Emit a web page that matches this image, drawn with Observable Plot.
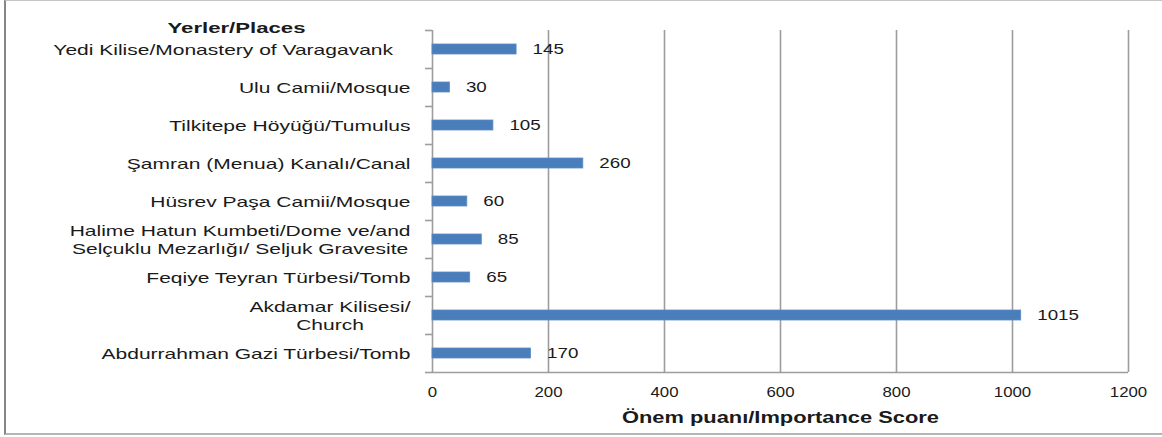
<!DOCTYPE html>
<html><head><meta charset="utf-8">
<script src="https://cdn.jsdelivr.net/npm/d3@7"></script>
<script src="https://cdn.jsdelivr.net/npm/@observablehq/plot@0.6"></script>
<style>
body{margin:0;background:#fff;}
#wrap{position:relative;width:1162px;height:437px;overflow:hidden;background:#fff;}
#wrap svg{position:absolute;left:0;top:0;}
#border{position:absolute;left:4px;top:0;width:1200px;height:435px;border-left:2.5px solid #858585;border-top:1px solid #c4c4c4;border-bottom:2px solid #b5b5b5;box-sizing:border-box;pointer-events:none;z-index:2;}
</style></head><body><div id="wrap"><div id="border"></div></div>
<script>
const places = [
  "Yedi Kilise/Monastery of Varagavank\u00a0\u00a0\u00a0",
  "Ulu Camii/Mosque",
  "Tilkitepe Höyüğü/Tumulus",
  "Şamran (Menua) Kanalı/Canal",
  "Hüsrev Paşa Camii/Mosque",
  "Halime Hatun Kumbeti/Dome ve/and\nSelçuklu Mezarlığı/ Seljuk Gravesite",
  "Feqiye Teyran Türbesi/Tomb",
  "Akdamar Kilisesi/\nChurch",
  "Abdurrahman Gazi Türbesi/Tomb"
];
const scores = [145, 30, 105, 260, 60, 85, 65, 1015, 170];
const xTicks = [0, 200, 400, 600, 800, 1000, 1200];
const yTitle = "Yerler/Places";
const xTitle = "Önem puanı/Importance Score";

const data = places.map((p, i) => ({place: p, score: scores[i]}));
const last = places[places.length - 1];
const grey = "#9d9d9d";

const chart = Plot.plot({
  width: 1162, height: 437,
  marginLeft: 432, marginRight: 34, marginTop: 30, marginBottom: 65,
  style: {fontFamily: "'Liberation Sans', Arial, sans-serif", fontSize: "15px", color: "#1a1a1a", background: "transparent"},
  x: {domain: [0, 1200], axis: null},
  y: {domain: places, padding: 0, axis: null},
  marks: [
    // vertical gridlines (0 is the y-axis line)
    Plot.ruleX(xTicks, {stroke: grey, strokeWidth: 1.6}),
    // x-axis line
    Plot.ruleY([last], {x1: 0, x2: 1200, dy: 19, stroke: grey, strokeWidth: 1.6}),
    // y-axis category boundary ticks
    Plot.ruleY(places, {x1: -12, x2: 0, dy: -19, stroke: grey, strokeWidth: 1.6}),
    Plot.ruleY([last], {x1: -12, x2: 0, dy: 19, stroke: grey, strokeWidth: 1.6}),
    // x-axis tick marks below the axis line
    Plot.ruleX(xTicks, {x: d => d, y: () => last, insetTop: 38, insetBottom: -5, stroke: grey, strokeWidth: 1.6}),
    Plot.text(xTicks, {x: d => d, text: d => String(d), frameAnchor: "bottom", dy: 14, lineAnchor: "top", fontSize: 15, fill: "#1a1a1a", ariaDescription: "xticks"}),
    Plot.barX(data, {x: "score", y: "place", fill: "#4a7ebb", stroke: "#5b8bc6", strokeWidth: 0.8, insetTop: 14, insetBottom: 14}),
    Plot.text(data, {x: "score", y: "place", text: d => String(d.score), dx: 16, textAnchor: "start", fontSize: 15, fill: "#1a1a1a", ariaDescription: "values"}),
    Plot.text(places, {y: d => d, text: d => d, frameAnchor: "left", dx: -22, textAnchor: "end", lineHeight: 1.2, fontSize: 15, fill: "#1a1a1a", ariaDescription: "ylabels"}),
    Plot.text([yTitle], {frameAnchor: "top-left", dx: -196, dy: 2, lineAnchor: "bottom", textAnchor: "middle", fontWeight: "bold", fontSize: 15, fill: "#1a1a1a", ariaDescription: "ytitle"}),
    Plot.text([xTitle], {frameAnchor: "bottom", dy: 50, lineAnchor: "bottom", textAnchor: "middle", fontWeight: "bold", fontSize: 16, fill: "#1a1a1a", ariaDescription: "xtitle"})
  ]
});
document.getElementById("wrap").appendChild(chart);

// widen the texts to match the reference's horizontally stretched lettering
function stretch(label, k, opts = {}) {
  chart.querySelectorAll(`g[aria-description="${label}"] text`).forEach(t => {
    const spans = [...t.querySelectorAll("tspan")];
    const els = spans.length ? spans : [t];
    const ws = els.map(e => opts.target ? opts.target : e.getComputedTextLength() * k);
    els.forEach((e, i) => {
      e.setAttribute("textLength", ws[i]);
      e.setAttribute("lengthAdjust", "spacingAndGlyphs");
    });
    if (opts.center && spans.length > 1) {
      const m = Math.max(...ws);
      t.setAttribute("text-anchor", "middle");
      spans.forEach(s => s.setAttribute("x", -m / 2));
    }
  });
}
stretch("ylabels", 1.4, {center: true});
stretch("values", 1.25);
stretch("xticks", 1.12);
stretch("ytitle", 1, {target: 138});
stretch("xtitle", 1, {target: 317});
</script></body></html>
